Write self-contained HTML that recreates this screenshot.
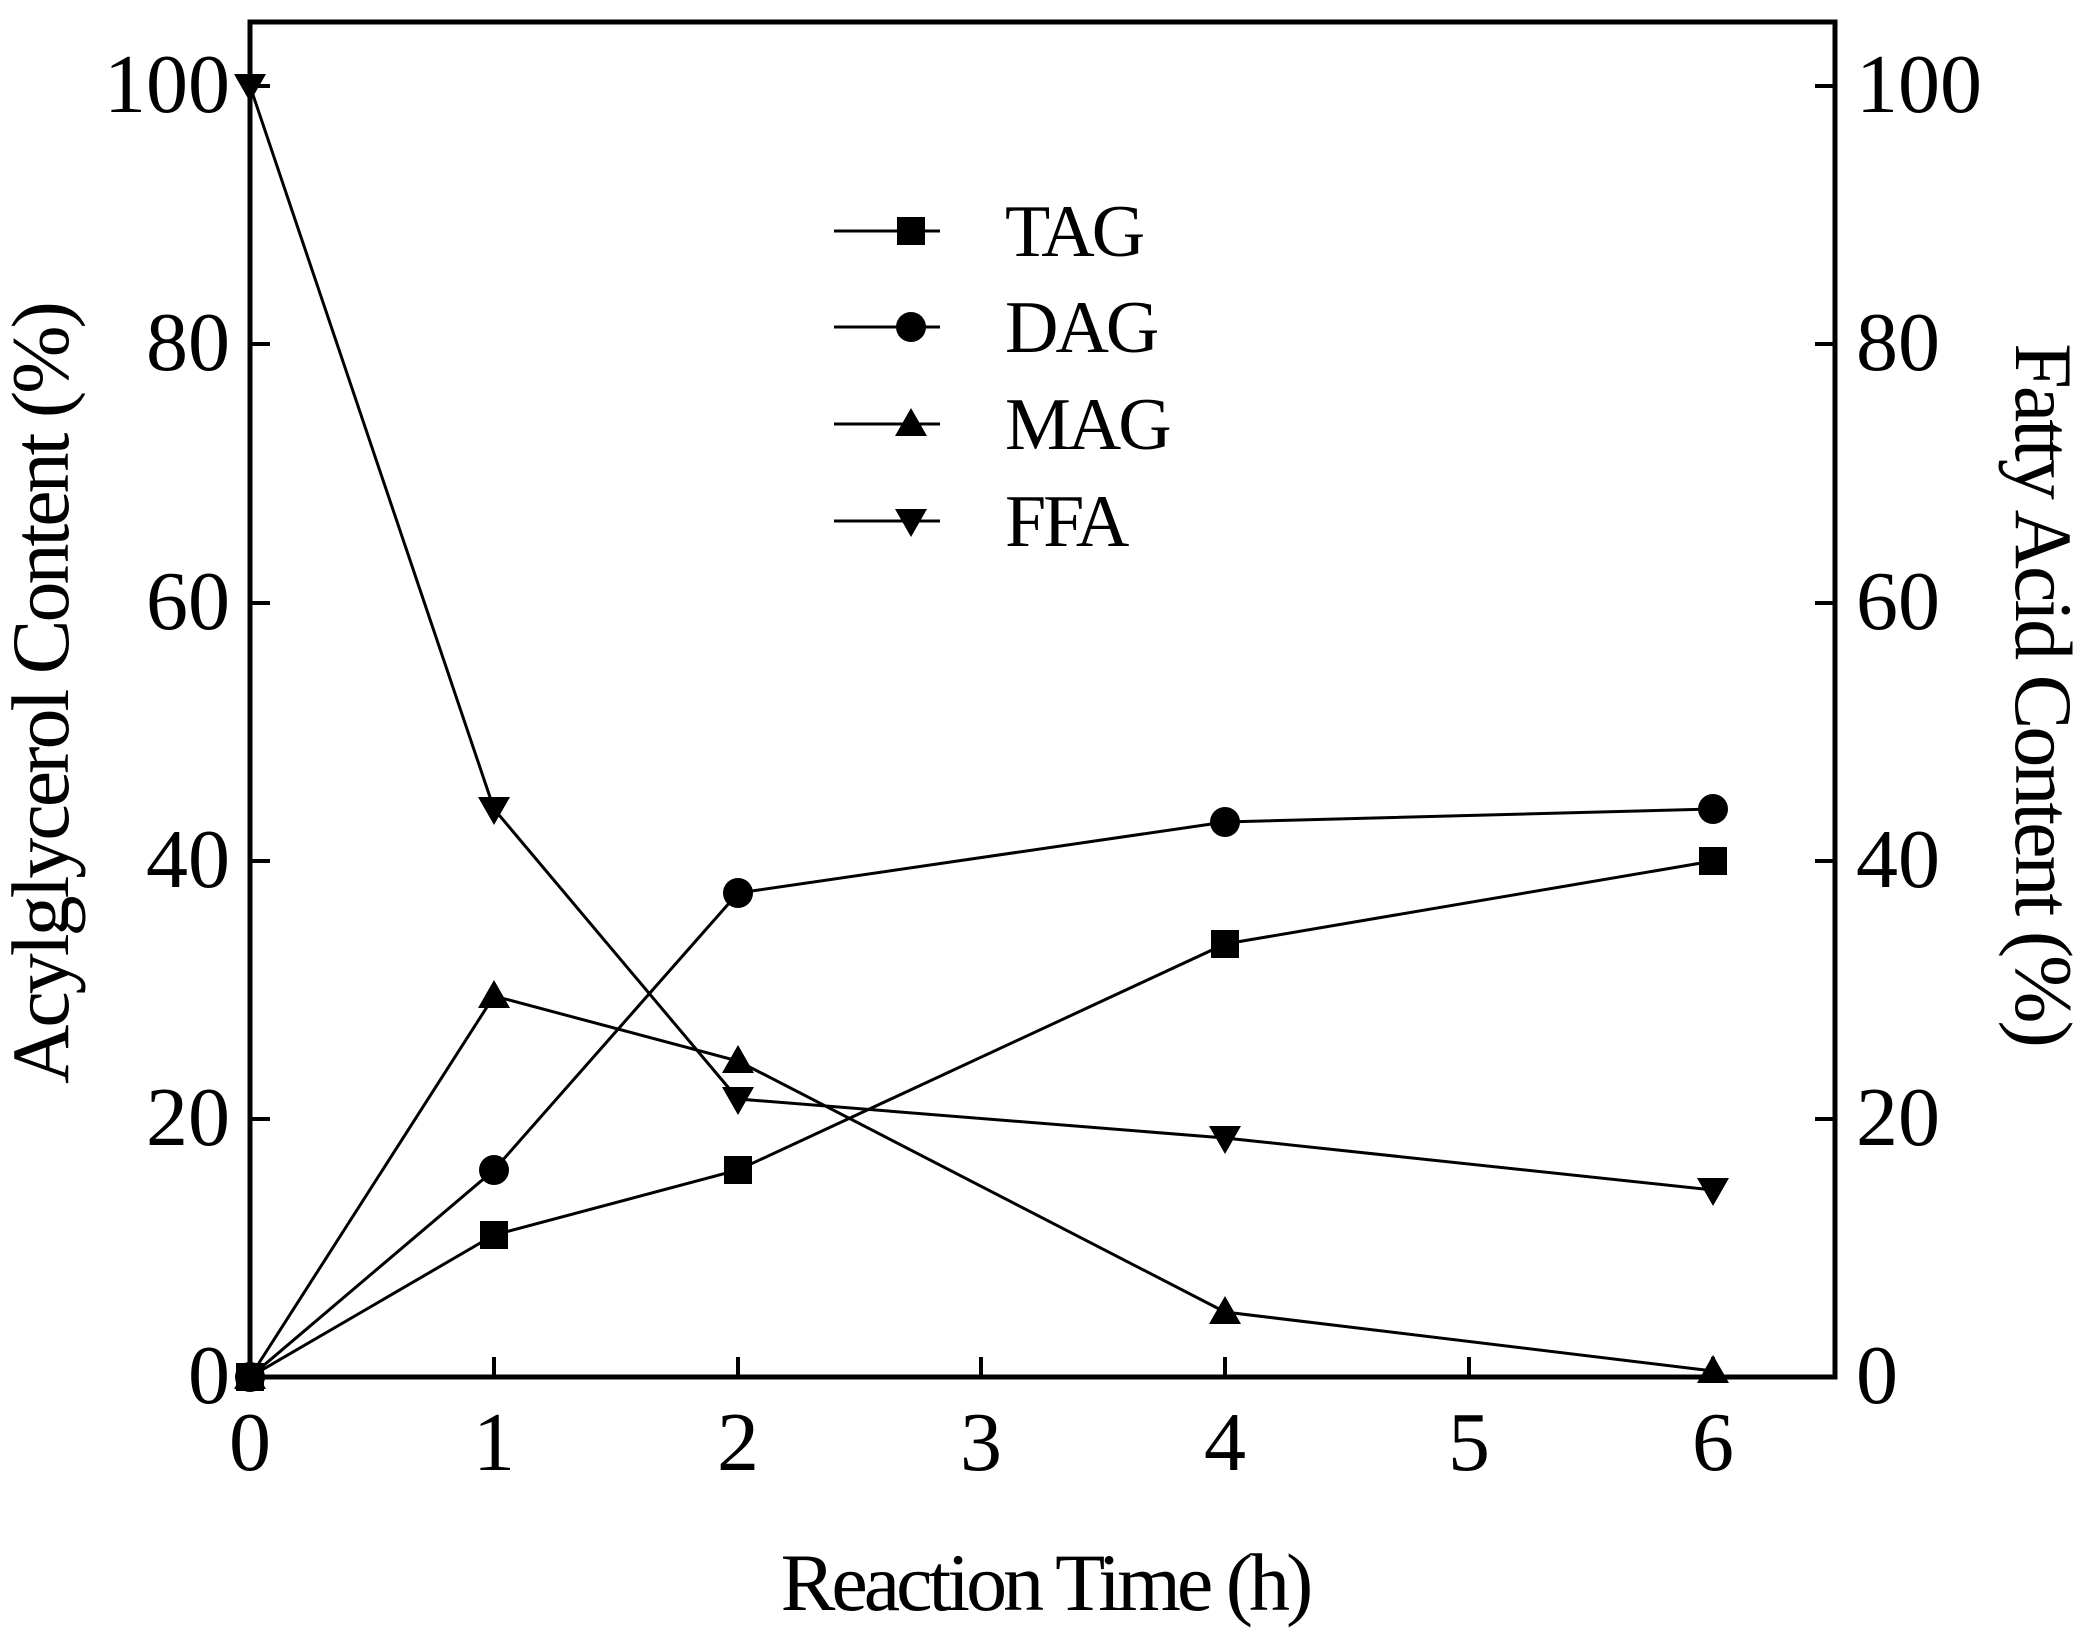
<!DOCTYPE html>
<html><head><meta charset="utf-8"><style>body{margin:0;background:#fff}</style></head><body>
<svg width="2092" height="1637" xmlns="http://www.w3.org/2000/svg" font-family="Liberation Serif, serif" fill="#000">
<rect x="250" y="22" width="1585" height="1355" fill="none" stroke="#000" stroke-width="5"/>
<g stroke="#000" stroke-width="4">
<line x1="494" y1="1377" x2="494" y2="1357"/><line x1="738" y1="1377" x2="738" y2="1357"/><line x1="981" y1="1377" x2="981" y2="1357"/><line x1="1225" y1="1377" x2="1225" y2="1357"/><line x1="1469" y1="1377" x2="1469" y2="1357"/><line x1="1713" y1="1377" x2="1713" y2="1357"/>
<line x1="250" y1="86" x2="270" y2="86"/><line x1="250" y1="344" x2="270" y2="344"/><line x1="250" y1="603" x2="270" y2="603"/><line x1="250" y1="861" x2="270" y2="861"/><line x1="250" y1="1119" x2="270" y2="1119"/>
<line x1="1835" y1="86" x2="1815" y2="86"/><line x1="1835" y1="344" x2="1815" y2="344"/><line x1="1835" y1="603" x2="1815" y2="603"/><line x1="1835" y1="861" x2="1815" y2="861"/><line x1="1835" y1="1119" x2="1815" y2="1119"/>
</g>
<g font-size="84" text-anchor="end">
<text x="230" y="112">100</text><text x="230" y="370">80</text><text x="230" y="629">60</text><text x="230" y="887">40</text><text x="230" y="1145">20</text><text x="230" y="1403">0</text>
</g>
<g font-size="84" text-anchor="start">
<text x="1856" y="112">100</text><text x="1856" y="370">80</text><text x="1856" y="629">60</text><text x="1856" y="887">40</text><text x="1856" y="1145">20</text><text x="1856" y="1403">0</text>
</g>
<g font-size="84" text-anchor="middle">
<text x="250" y="1470">0</text><text x="494" y="1470">1</text><text x="738" y="1470">2</text><text x="981" y="1470">3</text><text x="1225" y="1470">4</text><text x="1469" y="1470">5</text><text x="1713" y="1470">6</text>
</g>
<text x="1045" y="1610" font-size="82" text-anchor="middle" letter-spacing="-4">Reaction Time (h)</text>
<text transform="translate(68,694) rotate(-90)" font-size="82" text-anchor="middle" letter-spacing="-3">Acylglycerol Content (%)</text>
<text transform="translate(2016,694) rotate(90)" font-size="82" text-anchor="middle" letter-spacing="-3">Fatty Acid Content (%)</text>
<g fill="none" stroke="#000" stroke-width="3">
<polyline points="250,1377 494,1235 738,1170 1225,944 1713,861"/>
<polyline points="250,1377 494,1170 738,893 1225,822 1713,809"/>
<polyline points="250,1377 494,996 738,1061 1225,1312 1713,1371"/>
<polyline points="250,86 494,809 738,1099 1225,1138 1713,1190"/>
<line x1="834" y1="231" x2="940" y2="231"/><line x1="834" y1="327" x2="940" y2="327"/><line x1="834" y1="424" x2="940" y2="424"/><line x1="834" y1="521" x2="940" y2="521"/>
</g>
<g>
<rect x="236" y="1363" width="28" height="28"/><rect x="480" y="1221" width="28" height="28"/><rect x="724" y="1156" width="28" height="28"/><rect x="1211" y="930" width="28" height="28"/><rect x="1699" y="847" width="28" height="28"/>
<circle cx="250" cy="1377" r="15"/><circle cx="494" cy="1170" r="15"/><circle cx="738" cy="893" r="15"/><circle cx="1225" cy="822" r="15"/><circle cx="1713" cy="809" r="15"/>
<path d="M250,1361 l16,28 h-32z M494,980 l16,28 h-32z M738,1045 l16,28 h-32z M1225,1296 l16,28 h-32z M1713,1355 l16,28 h-32z"/>
<path d="M250,102 l16,-28 h-32z M494,825 l16,-28 h-32z M738,1115 l16,-28 h-32z M1225,1154 l16,-28 h-32z M1713,1206 l16,-28 h-32z"/>
<rect x="897" y="217" width="28" height="28"/>
<circle cx="911" cy="327" r="15"/>
<path d="M911,408 l16,28 h-32z"/>
<path d="M911,537 l16,-28 h-32z"/>
</g>
<g font-size="74" letter-spacing="-3">
<text x="1005" y="256">TAG</text><text x="1005" y="352">DAG</text><text x="1005" y="449">MAG</text><text x="1005" y="546">FFA</text>
</g>
</svg>
</body></html>
